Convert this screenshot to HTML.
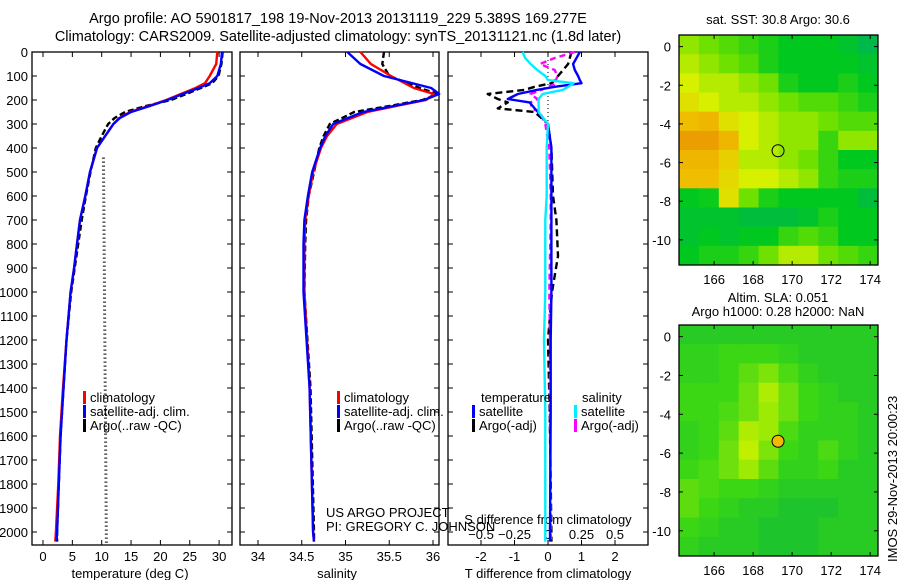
<!DOCTYPE html>
<html><head><meta charset="utf-8">
<style>
html,body{margin:0;padding:0;background:#fff;}
svg{display:block;font-family:"Liberation Sans",sans-serif;}
text{font-size:13px;fill:#000;}
text.title{font-size:14.5px;}
</style></head>
<body>
<svg id="fig" width="900" height="580" viewBox="0 0 900 580" xmlns="http://www.w3.org/2000/svg">
<text class="title" x="338" y="23" text-anchor="middle">Argo profile: AO 5901817_198 19-Nov-2013 20131119_229 5.389S 169.277E</text>
<text class="title" x="338" y="41" text-anchor="middle">Climatology: CARS2009. Satellite-adjusted climatology: synTS_20131121.nc (1.8d later)</text>
<g id="layer"></g>
</svg>
<script>
// ---------- data ----------
const depthT = [0,50,100,130,150,175,200,225,250,275,300,350,400,500,600,700,800,900,1000,1200,1400,1600,1800,2000,2040];
const tempClim = [29.7,29.5,28.4,27.6,26.0,23.5,21.0,18.0,14.8,13.0,12.0,10.6,9.2,8.0,7.2,6.3,5.8,5.3,4.7,4.0,3.4,2.9,2.6,2.2,2.1];
const tempSat  = [30.5,30.3,29.7,28.4,26.5,23.8,21.2,18.2,15.0,13.1,12.0,10.6,9.2,8.0,7.2,6.3,5.8,5.3,4.7,4.0,3.5,3.0,2.7,2.4,2.3];
const tempArgo = [30.6,30.4,29.9,28.8,26.9,24.4,21.8,17.5,14.0,12.2,11.1,10.0,9.0,8.1,7.3,6.6,6.0,5.4,4.8,4.0,3.5,3.0,2.7,2.4,2.4];
const depthS = [0,50,100,150,175,200,225,250,300,350,400,500,600,700,800,1000,1400,2000,2040];
const salClim = [35.17,35.29,35.52,35.78,36.01,35.92,35.58,35.25,34.90,34.79,34.72,34.63,34.58,34.54,34.53,34.53,34.59,34.63,34.64];
const salSat  = [35.02,35.17,35.44,35.98,36.07,35.90,35.55,35.20,34.86,34.77,34.71,34.62,34.57,34.53,34.52,34.52,34.59,34.63,34.64];
const salArgo = [35.44,35.42,35.50,35.85,36.05,35.88,35.50,35.10,34.82,34.75,34.70,34.64,34.58,34.55,34.54,34.53,34.60,34.64,34.64];
const depthD = [0,25,50,75,100,117,130,145,158,175,196,210,235,250,300,400,600,700,850,1000,1200,1500,2000,2040];
const dTsat  = [0.95,0.85,0.75,0.8,0.9,0.95,1.0,0.2,-0.33,-0.9,-1.2,-0.55,-0.4,-0.3,0.0,0.1,0.1,0.1,0.1,0.1,0.08,0.08,0.06,0.06];
const dSsat  = [-0.19,-0.17,-0.13,-0.08,-0.02,0.0,0.19,0.15,0.11,-0.04,-0.07,-0.07,-0.07,-0.07,0.0,-0.01,-0.01,-0.02,-0.02,-0.02,-0.03,-0.02,-0.02,-0.02];
const dTargo = [0.7,0.65,0.6,0.45,0.3,0.2,0.1,-0.4,-0.7,-1.8,-1.5,-1.2,-1.5,-0.4,0.0,0.1,0.15,0.25,0.3,0.12,0.0,0.05,0.1,0.1];
const dSargo = [0.2,0.05,-0.06,0.05,0.07,0.06,0.07,0.0,-0.05,-0.13,-0.08,-0.13,-0.12,-0.06,-0.02,0.01,0.02,0.02,0.015,0.01,0.015,0.015,0.02,0.02];
const depthTicks = [0,100,200,300,400,500,600,700,800,900,1000,1100,1200,1300,1400,1500,1600,1700,1800,1900,2000];
const tTicks = [0,5,10,15,20,25,30];
const sTicks = [34,34.5,35,35.5,36];
const sTickLabels = ["34","34.5","35","35.5","36"];
const dTTicks = [-2,-1,0,1,2];
const dSTicks = [-0.5,-0.25,0,0.25,0.5];
const lonTicks = [166,168,170,172,174];
const latTicks = [0,-2,-4,-6,-8,-10];
const sstGrid = [
[.55,.5,.45,.4,.35,.3,.3,.3,.25,.15],
[.6,.55,.5,.45,.35,.3,.3,.3,.3,.25],
[.65,.6,.6,.55,.5,.35,.3,.3,.35,.3],
[.7,.65,.6,.6,.55,.5,.45,.45,.4,.35],
[.8,.82,.7,.65,.6,.55,.55,.5,.45,.45],
[.88,.88,.82,.65,.6,.55,.55,.4,.55,.55],
[.82,.82,.75,.6,.6,.55,.5,.4,.3,.3],
[.8,.8,.72,.65,.65,.6,.55,.4,.35,.35],
[.3,.32,.7,.5,.35,.3,.3,.3,.3,.2],
[.25,.25,.25,.2,.2,.2,.25,.35,.3,.3],
[.25,.3,.25,.3,.3,.4,.45,.4,.3,.3],
[.3,.35,.35,.4,.5,.6,.6,.5,.45,.4]];
const slaGrid = [
[.3,.3,.3,.3,.3,.3,.3,.3,.3,.3],
[.35,.35,.4,.4,.4,.35,.3,.3,.3,.3],
[.35,.35,.4,.5,.6,.45,.35,.3,.3,.3],
[.4,.4,.4,.55,.75,.55,.4,.35,.3,.3],
[.4,.4,.45,.55,.7,.55,.4,.35,.35,.3],
[.35,.4,.5,.75,.7,.45,.35,.35,.35,.3],
[.35,.4,.55,.8,.6,.4,.35,.45,.35,.3],
[.4,.45,.55,.7,.5,.35,.35,.4,.3,.3],
[.5,.45,.4,.4,.35,.3,.3,.3,.3,.3],
[.5,.4,.35,.3,.3,.25,.25,.25,.3,.3],
[.4,.35,.3,.3,.25,.25,.25,.3,.3,.3],
[.35,.3,.3,.3,.25,.25,.25,.3,.3,.3]];
const argoLon = 169.277, argoLat = -5.389;

// ---------- helpers ----------
const NS="http://www.w3.org/2000/svg";
const L=document.getElementById('layer');
function mk(tag,attrs,parent){const e=document.createElementNS(NS,tag);for(const k in attrs)e.setAttribute(k,attrs[k]);(parent||L).appendChild(e);return e;}
function txt(x,y,s,anchor,parent){const t=mk('text',{x:x,y:y,'text-anchor':anchor||'start'},parent);t.textContent=s;return t;}
const yD = d => 52 + d*0.24;
const PT={x0:32,x1:232}, PS={x0:240,x1:439}, PD={x0:448,x1:648};
const Y0=52, Y1=545;
const xT = v => 43 + v*5.87;
const xS = v => 258 + (v-34)*87.5;
const xDT = v => 548 + v*33.5;
const xDS = v => 548 + v*134;

function panel(P,name){
  const g=mk('g',{});
  
  
  mk('rect',{x:P.x0,y:Y0,width:P.x1-P.x0,height:Y1-Y0,fill:'none',stroke:'#000','stroke-width':1.3},g);
  depthTicks.forEach(d=>{mk('line',{x1:P.x0,x2:P.x0+5,y1:yD(d),y2:yD(d),stroke:'#000'},g);mk('line',{x1:P.x1-5,x2:P.x1,y1:yD(d),y2:yD(d),stroke:'#000'},g);});
  return g;
}
function xticks(g,ticks,fx,labels,ly){
  ticks.forEach((v,i)=>{const x=fx(v);mk('line',{x1:x,x2:x,y1:Y1,y2:Y1-5,stroke:'#000'},g);mk('line',{x1:x,x2:x,y1:Y0,y2:Y0+5,stroke:'#000'},g);
    const t=txt(x,ly,labels?labels[i]:String(v),'middle',g);});
}
function series(g,depths,vals,fx,color,name,dash,w){
  const pts=depths.map((d,i)=>fx(vals[i]).toFixed(1)+','+yD(d).toFixed(1)).join(' ');
  const p=mk('polyline',{points:pts,fill:'none',stroke:color,'stroke-width':w||2.4,'stroke-linejoin':'round'},g);
  if(dash)p.setAttribute('stroke-dasharray',dash);
  
  
}
function legendEntry(g,x,y,color,label){
  const e=mk('g',{},g);
  
  
  mk('rect',{x:x,y:y-11,width:3,height:13,fill:color},e);
  txt(x+7,y,label,'start',e);
}

const yl=mk('g',{});


depthTicks.forEach(d=>{txt(28,yD(d)+5,String(d),'end',yl);});

// ---- temperature panel ----
const gT=panel(PT,'temperature-panel');
xticks(gT,tTicks,xT,null,561);
txt(130,578,'temperature (deg C)','middle',gT);
const dotLine=mk('line',{x1:xT(10.3),y1:yD(440),x2:xT(10.8),y2:yD(2050),stroke:'#000','stroke-width':3,'stroke-dasharray':'1,3'},gT);


series(gT,depthT,tempArgo,xT,'#000','temp-argo-line','6,3');
series(gT,depthT,tempClim,xT,'#f00','temp-climatology-line');
series(gT,depthT,tempSat,xT,'#00f','temp-satellite-line');
legendEntry(gT,83,402,'#f00','climatology');
legendEntry(gT,83,416,'#00f','satellite-adj. clim.');
legendEntry(gT,83,430,'#000','Argo(..raw -QC)');

// ---- salinity panel ----
const gS=panel(PS,'salinity-panel');
xticks(gS,sTicks,xS,sTickLabels,561);
txt(337,578,'salinity','middle',gS);
series(gS,depthS,salArgo,xS,'#000','sal-argo-line','6,3');
series(gS,depthS,salClim,xS,'#f00','sal-climatology-line');
series(gS,depthS,salSat,xS,'#00f','sal-satellite-line');
legendEntry(gS,337,402,'#f00','climatology');
legendEntry(gS,337,416,'#00f','satellite-adj. clim.');
legendEntry(gS,337,430,'#000','Argo(..raw -QC)');
txt(326,517,'US ARGO PROJECT','start',gS);
txt(326,531,'PI: GREGORY C. JOHNSON','start',gS);

// ---- difference panel ----
const gD=panel(PD,'difference-panel');
xticks(gD,dTTicks,xDT,null,561);
dSTicks.forEach(v=>{const x=xDS(v);mk('line',{x1:x,x2:x,y1:Y0,y2:Y0+5,stroke:'#000'},gD);const t=txt(x,539,String(v).replace('-','\u2212'),'middle',gD);});
txt(548,524,'S difference from climatology','middle',gD);
txt(548,578,'T difference from climatology','middle',gD);
mk('line',{x1:548,x2:548,y1:Y0,y2:yD(300),stroke:'#000','stroke-dasharray':'1,3'},gD);
series(gD,depthD,dTargo,xDT,'#000','dT-argo-line','7,4');
series(gD,depthD,dSargo,xDS,'#f0f','dS-argo-line','6,4');
series(gD,depthD,dTsat,xDT,'#00f','dT-satellite-line');
series(gD,depthD,dSsat,xDS,'#0ef','dS-satellite-line');
txt(481,402,'temperature','start',gD);
legendEntry(gD,472,416,'#00f','satellite');
legendEntry(gD,472,430,'#000','Argo(-adj)');
txt(582,402,'salinity','start',gD);
legendEntry(gD,574,416,'#0ef','satellite');
legendEntry(gD,574,430,'#f0f','Argo(-adj)');

// ---- maps ----
function lerpColor(stops,v){
  for(let i=0;i<stops.length-1;i++){const a=stops[i],b=stops[i+1];
    if(v<=b[0]){const t=Math.max(0,(v-a[0])/(b[0]-a[0]));return 'rgb('+[0,1,2].map(k=>Math.round(a[1][k]+(b[1][k]-a[1][k])*t)).join(',')+')';}}
  return 'rgb('+stops[stops.length-1][1].join(',')+')';
}
const sstStops=[[0,[0,170,120]],[0.3,[0,200,30]],[0.5,[110,225,0]],[0.65,[215,240,0]],[0.8,[240,190,0]],[1,[225,110,0]]];
const slaStops=[[0.2,[20,190,50]],[0.4,[60,215,20]],[0.8,[190,240,0]]];
function map(M,grid,stops,name,fillCircle){
  const g=mk('g',{});
  
  
  const lonMin=164.2, lonMax=174.4, latMax=0.6, latMin=-11.3;
  const fx=lo=>M.x0+(lo-lonMin)/(lonMax-lonMin)*(M.x1-M.x0);
  const fy=la=>M.y0+(latMax-la)/(latMax-latMin)*(M.y1-M.y0);
  const nr=grid.length,nc=grid[0].length;
  const dlo=(lonMax-lonMin)/nc, dla=(latMax-latMin)/nr;
  grid.forEach((row,r)=>row.forEach((v,c)=>{
    const x=fx(lonMin+c*dlo),y=fy(latMax-r*dla);
    const cell=mk('rect',{x:x,y:y,width:fx(lonMin+(c+1)*dlo)-x+0.5,height:fy(latMax-(r+1)*dla)-y+0.5,fill:lerpColor(stops,v)},g);
    
    
  }));
  mk('rect',{x:M.x0,y:M.y0,width:M.x1-M.x0,height:M.y1-M.y0,fill:'none',stroke:'#000','stroke-width':1.3},g);
  lonTicks.forEach(lo=>{const x=fx(lo);mk('line',{x1:x,x2:x,y1:M.y1,y2:M.y1-4,stroke:'#000'},g);mk('line',{x1:x,x2:x,y1:M.y0,y2:M.y0+4,stroke:'#000'},g);txt(x,M.y1+19,String(lo),'middle',g);});
  latTicks.forEach(la=>{const y=fy(la);mk('line',{x1:M.x0,x2:M.x0+4,y1:y,y2:y,stroke:'#000'},g);mk('line',{x1:M.x1-4,x2:M.x1,y1:y,y2:y,stroke:'#000'},g);txt(M.x0-8,y+5,String(la),'end',g);});
  const c=mk('circle',{cx:fx(argoLon),cy:fy(argoLat),r:6,fill:fillCircle||'none',stroke:'#000','stroke-width':1},g);
  
  
  return g;
}
const m1=map({x0:679,x1:878,y0:35,y1:265},sstGrid,sstStops,'sst-map');
txt(778,24,'sat. SST: 30.8 Argo: 30.6','middle',m1);
const m2=map({x0:679,x1:878,y0:325,y1:556},slaGrid,slaStops,'sla-map','#f5b800');
txt(778,302,'Altim. SLA: 0.051','middle',m2);
txt(778,316,'Argo h1000: 0.28 h2000: NaN','middle',m2);
const rt=txt(0,0,'IMOS 29-Nov-2013 20:00:23','start');
rt.setAttribute('transform','translate(897,562) rotate(-90)');


</script>
</body></html>
